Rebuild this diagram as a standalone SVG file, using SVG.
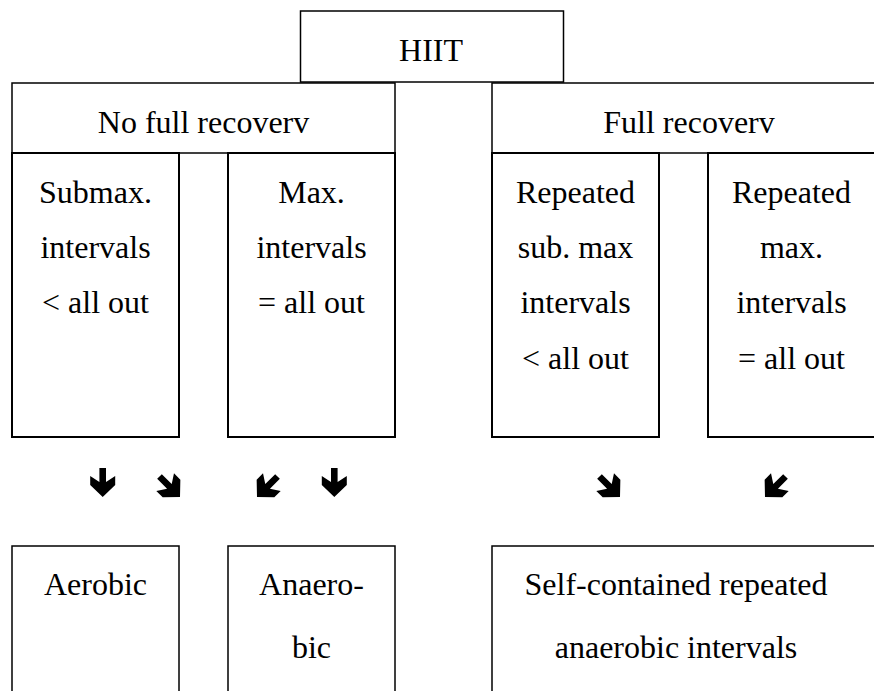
<svg xmlns="http://www.w3.org/2000/svg" width="874" height="691" viewBox="0 0 874 691">
<defs>
<style>
.box{fill:#fff;stroke:#000;stroke-width:1.5}
.sub{fill:#fff;stroke:#000;stroke-width:2}
.t{font-family:"Liberation Serif","Times New Roman",serif;font-size:32px;fill:#000;text-anchor:middle}
.arr{fill:#000}
</style>
<path id="down" d="M-3.3,-29 L3.3,-29 L3.3,-15 L12.5,-21 L12.5,-12 L0,0 L-12.5,-12 L-12.5,-21 L-3.3,-15 Z"/>
</defs>
<rect width="874" height="691" fill="#fff"/>
<g id="hiit">
<rect class="box" x="300.5" y="11" width="263" height="71"/>
<text class="t" x="431" y="61">HIIT</text>
</g>
<g id="no-full-recovery">
<rect class="box" x="12" y="83" width="383" height="70"/>
<text class="t" x="203.5" y="133">No full recoverv</text>
</g>
<g id="full-recovery">
<rect class="box" x="492" y="83" width="394" height="70"/>
<text class="t" x="689" y="133">Full recoverv</text>
</g>
<g id="submax">
<rect class="sub" x="12" y="153" width="167" height="284"/>
<text class="t" x="95.5" y="202.5">Submax.</text>
<text class="t" x="95.5" y="258">intervals</text>
<text class="t" x="95.5" y="313">&lt; all out</text>
</g>
<g id="max">
<rect class="sub" x="228" y="153" width="167" height="284"/>
<text class="t" x="311.5" y="202.5">Max.</text>
<text class="t" x="311.5" y="258">intervals</text>
<text class="t" x="311.5" y="313">= all out</text>
</g>
<g id="repeated-submax">
<rect class="sub" x="492" y="153" width="167" height="284"/>
<text class="t" x="575.5" y="202.5">Repeated</text>
<text class="t" x="575.5" y="258">sub. max</text>
<text class="t" x="575.5" y="313">intervals</text>
<text class="t" x="575.5" y="368.5">&lt; all out</text>
</g>
<g id="repeated-max">
<rect class="sub" x="708" y="153" width="167" height="284"/>
<text class="t" x="791.5" y="202.5">Repeated</text>
<text class="t" x="791.5" y="258">max.</text>
<text class="t" x="791.5" y="313">intervals</text>
<text class="t" x="791.5" y="368.5">= all out</text>
</g>
<g id="aerobic">
<rect class="box" x="12" y="546" width="167" height="160"/>
<text class="t" x="95.5" y="595">Aerobic</text>
</g>
<g id="anaerobic">
<rect class="box" x="228" y="546" width="167" height="160"/>
<text class="t" x="311.5" y="595">Anaero-</text>
<text class="t" x="311.5" y="658">bic</text>
</g>
<g id="self-contained">
<rect class="box" x="492" y="546" width="394" height="160"/>
<text class="t" x="676" y="595">Self-contained repeated</text>
<text class="t" x="676" y="658">anaerobic intervals</text>
</g>
<g id="connectors" class="arr">
<use href="#down" transform="translate(102.7,497)"/>
<use href="#down" transform="translate(180,497) rotate(-45)"/>
<use href="#down" transform="translate(257,497) rotate(45)"/>
<use href="#down" transform="translate(334.3,497)"/>
<use href="#down" transform="translate(620,497) rotate(-45)"/>
<use href="#down" transform="translate(765,497) rotate(45)"/>
</g>
</svg>
